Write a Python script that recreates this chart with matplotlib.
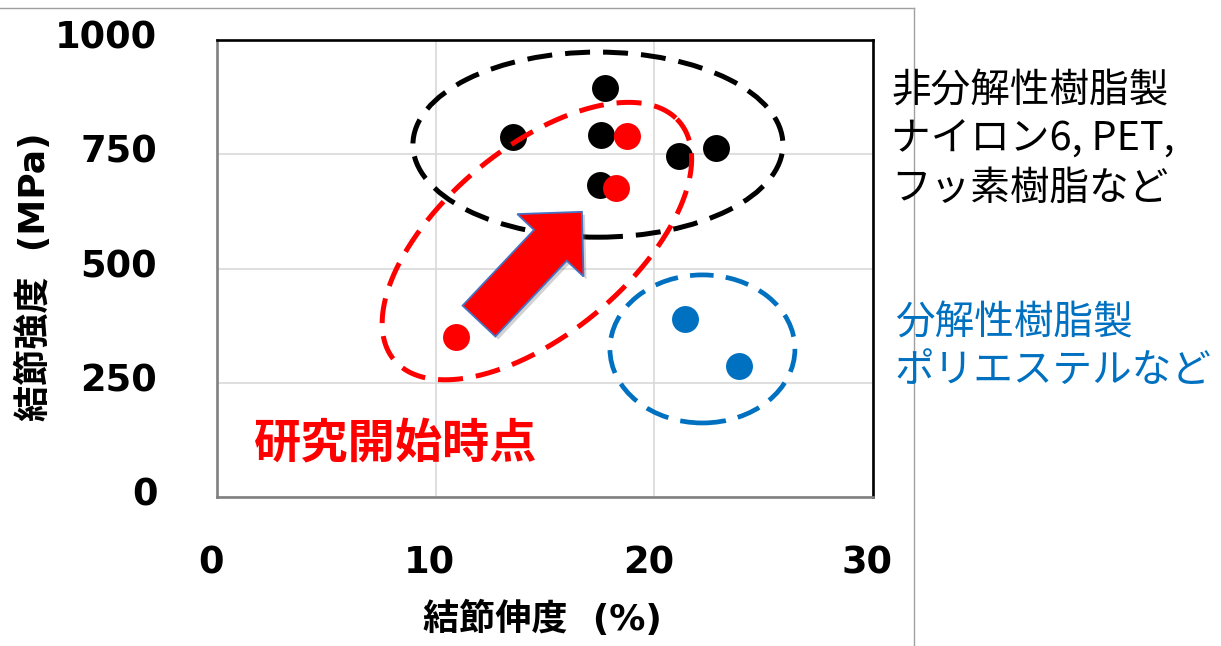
import matplotlib
matplotlib.use("Agg")
import matplotlib.pyplot as plt
import numpy as np
from matplotlib.patches import Ellipse, FancyArrow
from matplotlib.lines import Line2D
from matplotlib.transforms import ScaledTranslation, IdentityTransform

plt.rcParams['font.family'] = ['Noto Sans CJK JP', 'DejaVu Sans']

# Knot elongation (%) and knot strength (MPa) per fibre group
nondeg_elong = [17.74, 13.54, 17.56, 17.51, 21.13, 22.82]
nondeg_strength = [895, 788, 792, 683, 746, 764]
start_elong = [18.74, 18.23, 10.93]
start_strength = [791, 676, 350]
deg_elong = [21.42, 23.86]
deg_strength = [389, 287]

x_ticks = [0, 10, 20, 30]
y_ticks = [0, 250, 500, 750, 1000]

W, H = 1221, 646
fig = plt.figure(figsize=(W / 100, H / 100), dpi=100)
ax = fig.add_axes([217 / W, 149 / H, 656 / W, 457 / H])
ax.set_xlim(0, 30)
ax.set_ylim(0, 1000)

tick_font = dict(fontsize=26.5, fontweight='bold', fontfamily='DejaVu Sans')
ax.set_xticks(x_ticks, labels=[str(v) for v in x_ticks], **tick_font)
ax.set_yticks(y_ticks, labels=[str(v) for v in y_ticks], **tick_font)
ax.tick_params(axis='both', length=0)
ax.tick_params(axis='y', pad=43)
ax.tick_params(axis='x', pad=34)
ax.grid(color='#d9d9d9', lw=1.2)
ax.set_axisbelow(True)

for lab in ax.get_yticklabels():
    lab.set_transform(lab.get_transform() + ScaledTranslation(0, 0.06, fig.dpi_scale_trans))
for lab in ax.get_xticklabels():
    lab.set_transform(lab.get_transform() + ScaledTranslation(-0.06, 0, fig.dpi_scale_trans))

for side in ('top', 'right'):
    ax.spines[side].set_color('black')
    ax.spines[side].set_linewidth(1.9)
for side in ('left', 'bottom'):
    ax.spines[side].set_color('#808080')
    ax.spines[side].set_linewidth(1.9)

label_font = dict(fontsize=26, fontweight='bold', family=['DejaVu Sans', 'Noto Sans CJK JP'])
ax.set_xlabel('結節伸度  (%)', **label_font)
ax.xaxis.set_label_coords(0.496, -0.267)
ax.xaxis.label.set_va('center')
ax.set_ylabel('結節強度  (MPa)', **label_font)
ax.yaxis.set_label_coords(-0.279, 0.4825)
ax.yaxis.label.set_va('center')
ax.yaxis.label.set_ha('center')

dash = (0, (5, 2.6))
msize = 376

# Group outlines
ax.add_patch(Ellipse((17.42, 771), 16.92, 405, fill=False, ec='black',
                     lw=3.6, ls=dash, zorder=2))
ax.add_patch(Ellipse((22.2, 324), 8.46, 324, fill=False, ec='#0070C0',
                     lw=3.4, ls=dash, zorder=5))

t = np.linspace(0, 2 * np.pi, 500)
cx, cy = 14.63, 560
u = (6.40, 267)
v = (3.02, -144.4)
ax.plot(cx + u[0] * np.cos(t) + v[0] * np.sin(t),
        cy + u[1] * np.cos(t) + v[1] * np.sin(t),
        color='#ff0000', lw=3.6, ls=dash, zorder=5)

ax.scatter(nondeg_elong, nondeg_strength, s=msize, color='black', lw=0, zorder=3)
ax.scatter(start_elong, start_strength, s=msize, color='#ff0000', lw=0, zorder=4)
ax.scatter(deg_elong, deg_strength, s=msize, color='#0070C0', lw=0, zorder=4)

# Block arrow showing the direction of improvement
p0 = ax.transData.transform((11.98, 385))
p1 = ax.transData.transform((16.69, 624))
d = p1 - p0
arrow_kw = dict(width=45, head_width=91, head_length=46,
                length_includes_head=True, transform=IdentityTransform())
ax.add_patch(FancyArrow(p0[0] + 3, p0[1] - 3, d[0], d[1], fc='#7f7f7f',
                        ec='none', alpha=0.35, zorder=5.9, **arrow_kw))
ax.add_patch(FancyArrow(p0[0], p0[1], d[0], d[1], fc='#ff0000',
                        ec='#4472C4', lw=1.3, zorder=6, **arrow_kw))

ax.text(8.19, 118, '研究開始時点', color='#ff0000', fontsize=34,
        fontweight='bold', ha='center', va='center', zorder=7)

# Side notes
note_kw = dict(fontsize=28.5, ha='left', va='baseline', transform=fig.transFigure)
for line, ybase in zip(['非分解性樹脂製', 'ナイロン6, PET,', 'フッ素樹脂など'],
                       [103, 151, 200]):
    fig.text(891 / W, 1 - ybase / H, line, color='black', **note_kw)
for line, ybase in zip(['分解性樹脂製', 'ポリエステルなど'], [335, 382]):
    fig.text(895 / W, 1 - ybase / H, line, color='#0070C0', **note_kw)

# Outer frame edges
fig.add_artist(Line2D([0, 914 / W], [1 - 8 / H, 1 - 8 / H],
                      transform=fig.transFigure, color='#a0a0a0', lw=1))
fig.add_artist(Line2D([914 / W, 914 / W], [0, 1 - 8 / H],
                      transform=fig.transFigure, color='#a0a0a0', lw=1))

fig.savefig('out.png', dpi=100)
